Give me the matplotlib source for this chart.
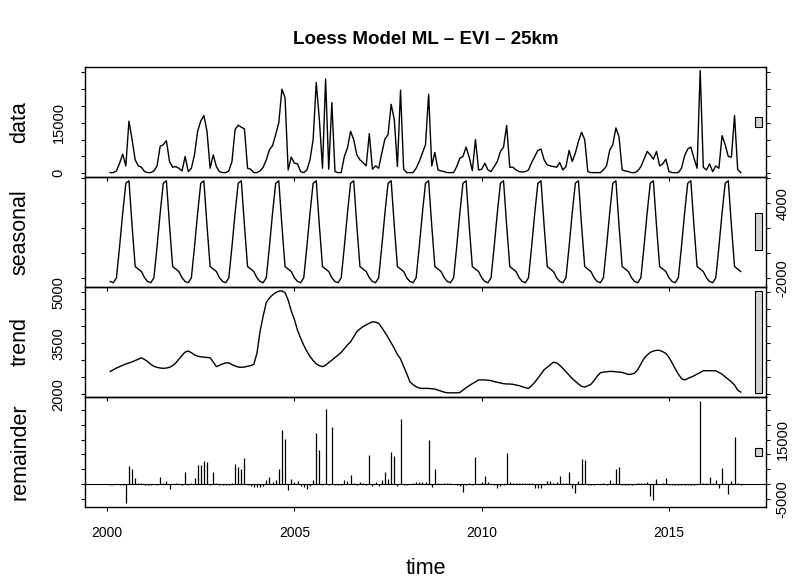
import numpy as np
import matplotlib
matplotlib.use("Agg")
from matplotlib import pyplot as plt
from matplotlib.patches import Rectangle

plt.rcParams['font.family'] = ['Liberation Sans', 'DejaVu Sans']

# monthly STL decomposition, Feb 2000 - Dec 2016 (one list per year)
start_year = 2000
start_month = 2

data_by_year = [
    [200, 200, 700, 3000, 5700, 2200, 15500, 10000, 4000, 2200, 1800],
    [500, 200, 200, 700, 2200, 8000, 8500, 9700, 3500, 1800, 2000, 1500],
    [700, 5000, 500, 1500, 5500, 12500, 15500, 17200, 12500, 1500, 5500, 2000],
    [500, 200, 200, 700, 3500, 13000, 14300, 13700, 13200, 1500, 1200, 200],
    [200, 700, 1800, 4000, 7000, 8200, 11500, 15000, 25000, 22500, 1000, 4800],
    [3000, 2800, 500, 200, 1000, 4000, 10000, 27000, 16000, 1500, 28000, 1200],
    [21000, 500, 200, 200, 5000, 7500, 12500, 10000, 5500, 4000, 3200, 2200],
    [11800, 1200, 2200, 1500, 6000, 10200, 11500, 20500, 16000, 2000, 24700, 1200],
    [200, 200, 200, 1500, 3500, 6000, 8500, 23500, 2200, 6200, 1000, 700],
    [500, 200, 200, 200, 2000, 4500, 5000, 7800, 4800, 800, 10000, 1000],
    [1200, 3000, 1000, 500, 2000, 3500, 6500, 7800, 14200, 1800, 1800, 1000],
    [500, 400, 500, 1000, 3200, 5000, 6800, 7200, 4000, 2500, 2200, 2000],
    [1800, 3200, 1000, 2000, 6800, 3500, 6000, 9500, 12200, 10000, 500, 200],
    [200, 200, 200, 1000, 2200, 6800, 8500, 13500, 10800, 1000, 700, 500],
    [200, 200, 700, 2000, 4200, 6500, 5500, 4200, 6500, 2200, 2800, 4200],
    [500, 200, 200, 200, 1500, 5200, 7200, 7800, 4500, 1500, 30500, 1800],
    [1000, 2800, 500, 2200, 1500, 11200, 8500, 5000, 4800, 17200, 1200, 200],
]

seasonal_by_year = [
    [-2300, -2400, -2000, 500, 3200, 5600, 5800, 2200, -1100, -1300, -1500],
    [-2000, -2300, -2400, -2000, 500, 3200, 5600, 5800, 2200, -1100, -1300, -1500],
    [-2000, -2300, -2400, -2000, 500, 3200, 5600, 5800, 2200, -1100, -1300, -1500],
    [-2000, -2300, -2400, -2000, 500, 3200, 5600, 5800, 2200, -1100, -1300, -1500],
    [-2000, -2300, -2400, -2000, 500, 3200, 5600, 5800, 2200, -1100, -1300, -1500],
    [-2000, -2300, -2400, -2000, 500, 3200, 5600, 5800, 2200, -1100, -1300, -1500],
    [-2000, -2300, -2400, -2000, 500, 3200, 5600, 5800, 2200, -1100, -1300, -1500],
    [-2000, -2300, -2400, -2000, 500, 3200, 5600, 5800, 2200, -1100, -1300, -1500],
    [-2000, -2300, -2400, -2000, 500, 3200, 5600, 5800, 2200, -1100, -1300, -1500],
    [-2000, -2300, -2400, -2000, 500, 3200, 5600, 5800, 2200, -1100, -1300, -1500],
    [-2000, -2300, -2400, -2000, 500, 3200, 5600, 5800, 2200, -1100, -1300, -1500],
    [-2000, -2300, -2400, -2000, 500, 3200, 5600, 5800, 2200, -1100, -1300, -1500],
    [-2000, -2300, -2400, -2000, 500, 3200, 5600, 5800, 2200, -1100, -1300, -1500],
    [-2000, -2300, -2400, -2000, 500, 3200, 5600, 5800, 2200, -1100, -1300, -1500],
    [-2000, -2300, -2400, -2000, 500, 3200, 5600, 5800, 2200, -1100, -1300, -1500],
    [-2000, -2300, -2400, -2000, 500, 3200, 5600, 5800, 2200, -1100, -1300, -1500],
    [-2000, -2300, -2400, -2000, 500, 3200, 5600, 5800, 2200, -1100, -1300, -1500],
]

trend_by_year = [
    [2670, 2720, 2770, 2810, 2850, 2890, 2920, 2950, 2990, 3030, 3070],
    [3020, 2960, 2880, 2820, 2790, 2770, 2760, 2770, 2790, 2840, 2920, 3030],
    [3140, 3240, 3270, 3220, 3160, 3120, 3100, 3090, 3080, 3070, 2950, 2810],
    [2850, 2890, 2920, 2920, 2870, 2830, 2800, 2790, 2800, 2820, 2840, 2880],
    [3200, 3850, 4300, 4700, 4830, 4920, 4990, 5030, 5040, 4990, 4770, 4450],
    [4200, 3880, 3650, 3440, 3260, 3110, 2990, 2890, 2840, 2810, 2850, 2930],
    [3000, 3080, 3150, 3230, 3340, 3450, 3540, 3690, 3840, 3920, 3990, 4040],
    [4090, 4130, 4120, 4090, 3960, 3820, 3670, 3510, 3350, 3170, 3040, 2820],
    [2600, 2370, 2280, 2220, 2180, 2170, 2170, 2170, 2160, 2150, 2120, 2090],
    [2060, 2040, 2040, 2040, 2040, 2050, 2120, 2190, 2250, 2310, 2360, 2420],
    [2420, 2420, 2410, 2400, 2370, 2350, 2330, 2310, 2300, 2300, 2290, 2270],
    [2250, 2220, 2190, 2170, 2250, 2350, 2470, 2590, 2720, 2790, 2870, 2940],
    [2920, 2850, 2760, 2660, 2560, 2460, 2380, 2300, 2230, 2210, 2250, 2290],
    [2400, 2530, 2630, 2650, 2660, 2670, 2670, 2660, 2650, 2640, 2610, 2580],
    [2590, 2620, 2720, 2890, 3050, 3150, 3230, 3270, 3290, 3290, 3250, 3200],
    [3080, 2920, 2750, 2590, 2460, 2420, 2460, 2500, 2540, 2590, 2640, 2690],
    [2690, 2690, 2690, 2690, 2640, 2590, 2510, 2440, 2360, 2270, 2120, 2060],
]

remainder_by_year = [
    [-200, -300, -100, -300, -300, -6400, 6200, 4900, 2000, 300, 200],
    [-500, -500, -300, -100, -500, 2400, 200, 900, -1600, 100, 300, -100],
    [-400, 4000, -300, 200, 2000, 6500, 6400, 7800, 7500, -300, 4200, 200],
    [-300, -400, -300, -200, 400, 6600, 5700, 4900, 8700, -200, -800, -1000],
    [-1000, -900, -800, 1200, 2200, 700, 1500, 5000, 18300, 15300, -2000, 1700],
    [600, 1000, -600, -1000, -1700, -600, 1200, 17300, 11400, -200, 25400, -200],
    [19300, -300, -400, -500, 1500, 900, 2900, 300, -400, 600, 400, -300],
    [9900, -800, 800, -800, 1500, 3900, 1800, 10800, 9600, -600, 22000, -300],
    [-300, 100, 300, 500, 500, 500, 600, 14800, -1000, 5100, 200, 100],
    [300, 300, 400, 100, -500, -800, -2800, -200, 300, -300, 9000, 100],
    [800, 2800, 600, 100, -500, -1500, -800, -300, 10300, 800, 300, 200],
    [200, 300, 400, 400, 300, -1500, -1500, -1300, -300, 900, 1000, 300],
    [600, 2700, 200, 300, 4000, -1500, -3000, 1000, 8300, 8000, -500, -500],
    [-200, -100, -100, 200, -400, 1500, 200, 4900, 5800, -400, -400, -400],
    [-300, -100, 200, 300, 300, 500, -4000, -5300, 1800, -100, 300, 2000],
    [-400, -400, -200, -300, -400, -300, -500, -400, -200, 100, 28000, 300],
    [300, 2400, 200, 1300, -1500, 5500, 300, -3500, 1000, 15700, 300, -300],
]

panel_names = ["data", "seasonal", "trend", "remainder"]

# y ticks and which of them carry a label (others dropped like in R)
data_ticks = [0, 5000, 10000, 15000, 20000, 25000, 30000]
data_tick_labels = ["0", "", "", "15000", "", "", ""]
seasonal_ticks = [-2000, 0, 2000, 4000, 6000]
seasonal_tick_labels = ["-2000", "", "", "4000", ""]
trend_ticks = [2000, 2500, 3000, 3500, 4000, 4500, 5000]
trend_tick_labels = ["2000", "", "", "3500", "", "", "5000"]
remainder_ticks = [-5000, 0, 5000, 10000, 15000, 20000, 25000]
remainder_tick_labels = ["-5000", "", "", "", "15000", "", ""]

year_ticks = [2000, 2005, 2010, 2015]
year_tick_labels = ["2000", "2005", "2010", "2015"]

title = "Loess Model ML \u2013 EVI \u2013 25km"


def flatten(rows):
    return np.array([v for row in rows for v in row], dtype=float)


components = [flatten(data_by_year), flatten(seasonal_by_year),
              flatten(trend_by_year), flatten(remainder_by_year)]
ticks = [data_ticks, seasonal_ticks, trend_ticks, remainder_ticks]
tick_labels = [data_tick_labels, seasonal_tick_labels, trend_tick_labels, remainder_tick_labels]

n = len(components[0])
t = start_year + (start_month - 1 + np.arange(n)) / 12.0
span = t[-1] - t[0]
xlim = (t[0] - 0.04 * span, t[-1] + 0.04 * span)

# range bars all have the height of the smallest component range
min_range = min(c.max() - c.min() for c in components)

W, H = 795, 578
fig = plt.figure(figsize=(W / 100, H / 100), dpi=100)

left = 85 / W
width = (766 - 85) / W
panel_h = 110.1 / H
bottom0 = 1 - 507 / H

for k, (name, series) in enumerate(zip(panel_names, components)):
    ax = fig.add_axes([left, bottom0 + (3 - k) * panel_h, width, panel_h])
    ax.set_facecolor('none')
    lo, hi = series.min(), series.max()
    pad = 0.04 * (hi - lo)
    ax.set_ylim(lo - pad, hi + pad)
    ax.set_xlim(xlim)

    if name == "remainder":
        ax.vlines(t, 0, series, color='black', lw=0.9)
        ax.axhline(0, color='black', lw=0.8)
    else:
        ax.plot(t, series, color='black', lw=1.0)

    # grey range bar at right edge
    dx = (xlim[1] - xlim[0]) / 64
    ymid = (lo + hi) / 2
    ax.add_patch(Rectangle((xlim[1] - dx, ymid - min_range / 2), 0.6 * dx, min_range,
                           facecolor='#d3d3d3', edgecolor='black', lw=0.8, clip_on=False))

    for sp in ax.spines.values():
        sp.set_linewidth(1.0)

    right = (k % 2 == 1)
    ax.set_yticks(ticks[k])
    ax.set_yticklabels(tick_labels[k])
    ax.tick_params(axis='y', direction='out', length=3, width=0.8,
                   left=True, right=True, labelleft=not right, labelright=right,
                   labelsize=10.5)
    ax.tick_params(axis='y', which='major', pad=11 if not right else 4)
    for tk in ax.yaxis.get_major_ticks():
        tk.label1.set_rotation(90)
        tk.label1.set_va('center')
        tk.label2.set_rotation(90)
        tk.label2.set_va('center')

    ax.set_xticks(year_ticks)
    ax.set_xticklabels(year_tick_labels)
    ax.tick_params(axis='x', direction='out', length=3, width=0.8, pad=11,
                   labelsize=10, labelbottom=(k == 3))

    fig.text(20 / W, bottom0 + (3.5 - k) * panel_h, name, rotation=90,
             ha='center', va='center', fontsize=15.5)

fig.text((85 + 766) / 2 / W, 1 - 40 / H, title, ha='center', va='center',
         fontsize=13.5, fontweight='bold')
fig.text((85 + 766) / 2 / W, 1 - 568 / H, "time", ha='center', va='center', fontsize=15.5)

fig.savefig("out.png", dpi=100)
